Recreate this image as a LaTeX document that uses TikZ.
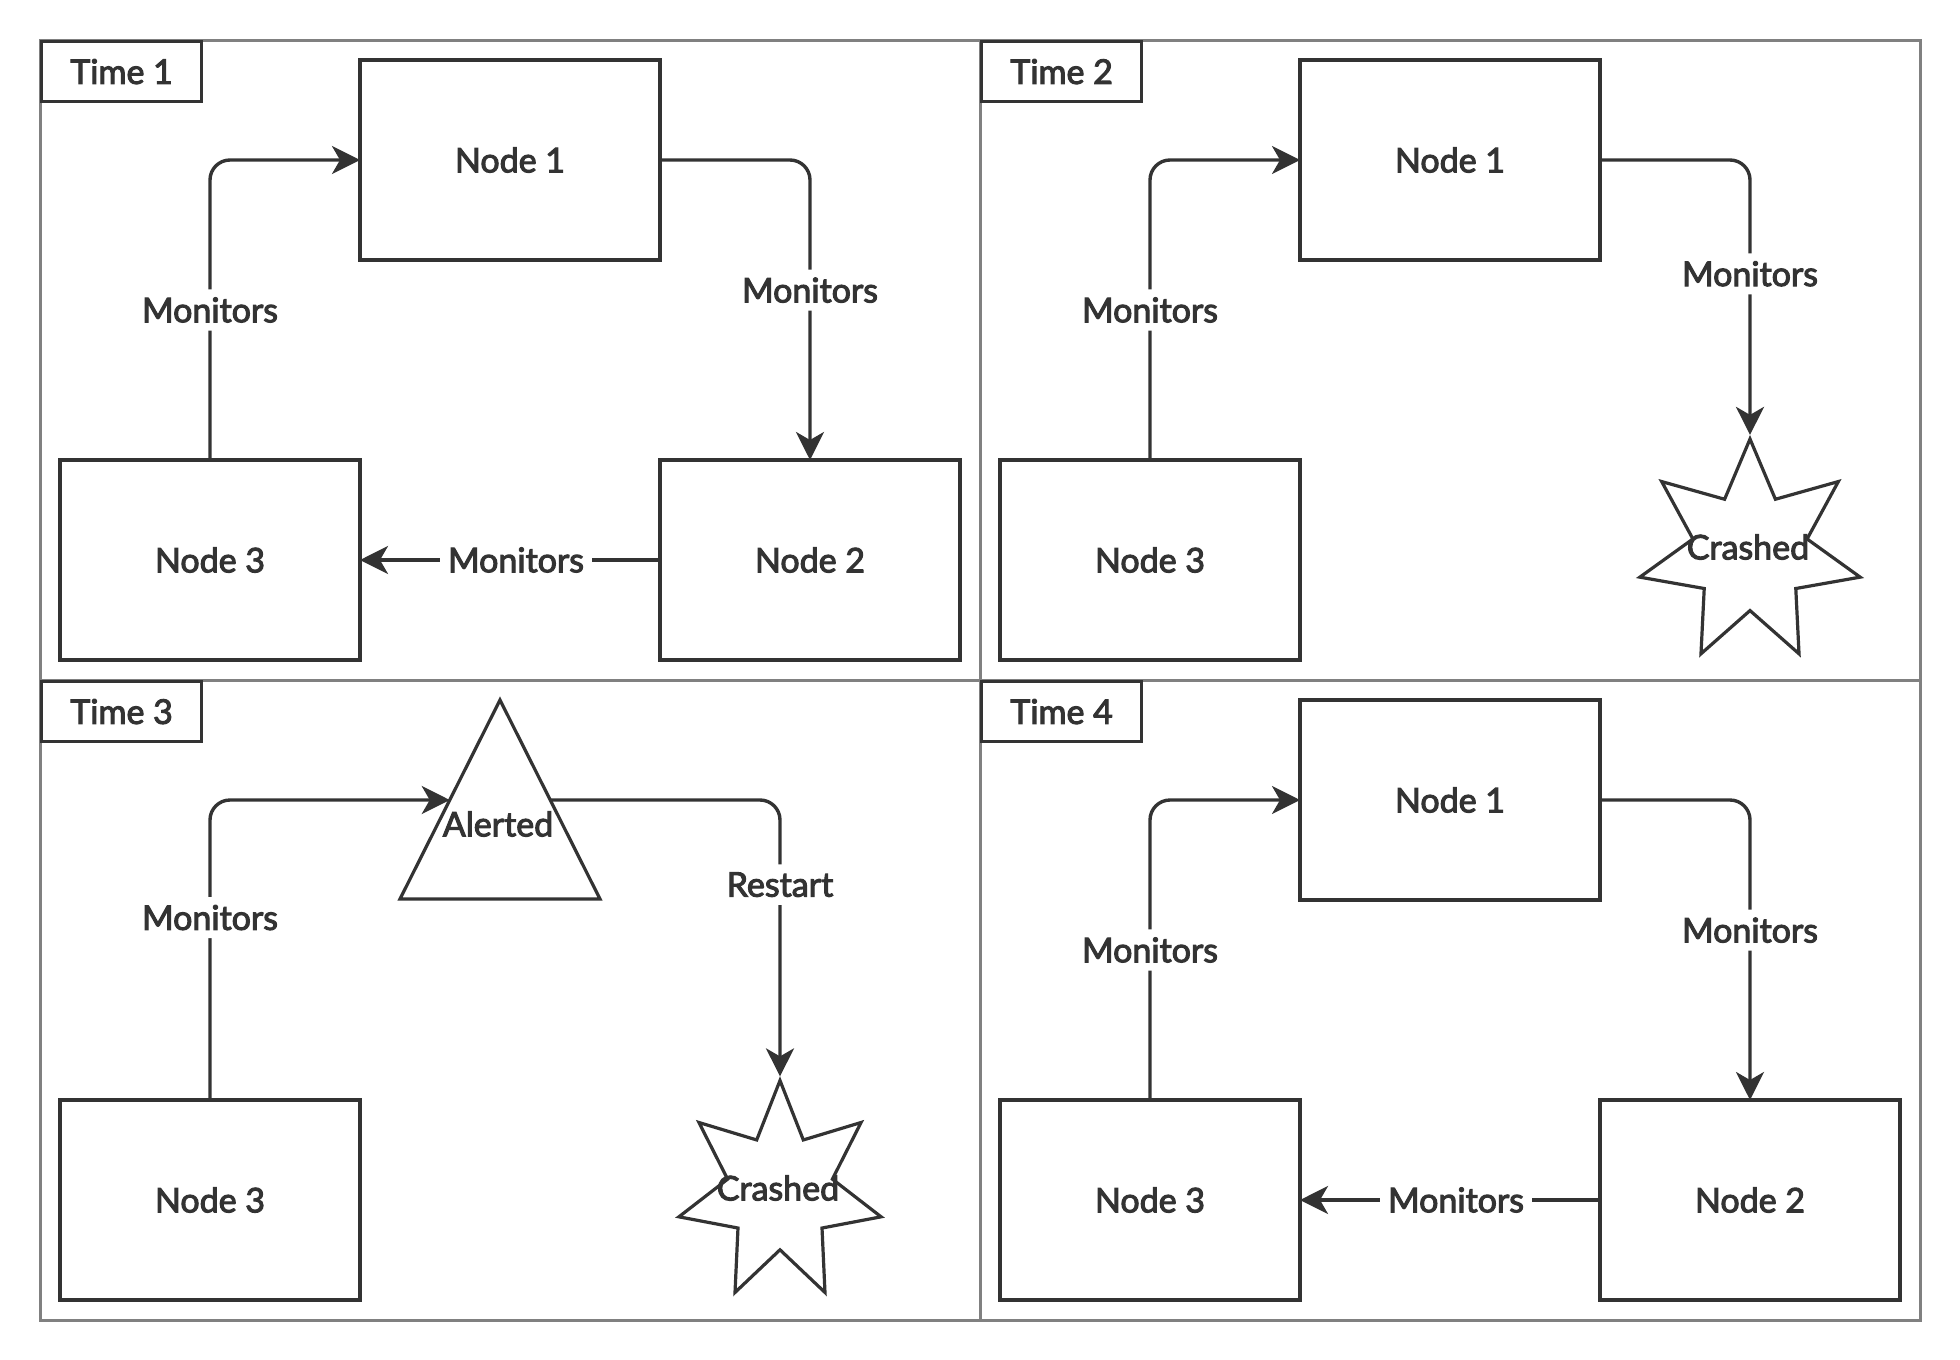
\documentclass[tikz,border=0pt]{standalone}
\usepackage{fontspec}
\setmainfont{Lato}[FakeBold=3]
\usetikzlibrary{arrows.meta,positioning,shapes.geometric,calc}

\definecolor{ink}{HTML}{333333}
\definecolor{framegray}{HTML}{808080}

\begin{document}
\begin{tikzpicture}[
    x=0.5pt, y=-0.5pt,
    font=\fontsize{17}{20}\selectfont, text=ink,
    panel/.style={draw=framegray, line width=1.5pt},
    timetag/.style={rectangle, draw=ink, line width=1.6pt, fill=white, minimum width=80pt, minimum height=30pt, anchor=north west, inner sep=0pt},
    box/.style={rectangle, draw=ink, line width=1.7pt, minimum width=150pt, minimum height=100pt, inner sep=0pt, outer sep=0pt},
    crash/.style={star, star points=7, star point ratio=1.93, draw=ink, line width=1.6pt, minimum size=113pt, inner sep=0pt},
    arrow/.style={-{Stealth[length=14pt, width=14pt, inset=4pt]}, draw=ink, line width=1.7pt, rounded corners=10pt},
    lbl/.style={fill=white, inner sep=4pt}
]
    \useasboundingbox (0,0) rectangle (1960,1360);

    % Panel frames
    \draw[panel] (40,40) rectangle (980,680);
    \draw[panel] (980,40) rectangle (1920,680);
    \draw[panel] (40,680) rectangle (980,1320);
    \draw[panel] (980,680) rectangle (1920,1320);

    % Time 1: all nodes up
    \node[timetag] (t1) at (40,40) {Time 1};
    \node[box] (n3a) at (210,560) {Node 3};
    \node[box, above right=100pt and 0pt of n3a] (n1a) {Node 1};
    \node[box, right=150pt of n3a] (n2a) {Node 2};
    \draw[arrow] (n3a.north) |- node[lbl, pos=0.25] (m1a) {Monitors} (n1a.west);
    \draw[arrow] (n1a.east) -| node[lbl, pos=0.717] (m2a) {Monitors} (n2a.north);
    \draw[arrow] (n2a.west) -- node[lbl, pos=0.48] (m3a) {Monitors} (n3a.east);

    % Time 2: node 2 crashed
    \node[timetag] (t2) at (980,40) {Time 2};
    \node[box] (n3b) at (1150,560) {Node 3};
    \node[box, above right=100pt and 0pt of n3b] (n1b) {Node 1};
    \node[crash] (c2) at (1750,552) {};
    \node (c2t) at (1748,547) {Crashed};
    \draw[arrow] (n3b.north) |- node[lbl, pos=0.25] (m1b) {Monitors} (n1b.west);
    \draw[arrow] (n1b.east) -| node[lbl, pos=0.707] (m2b) {Monitors} (c2.north);

    % Time 3: node 1 alerted
    \node[timetag] (t3) at (40,680) {Time 3};
    \node[box] (n3c) at (210,1200) {Node 3};
    \coordinate (tA) at (500,700);
    \coordinate (tB) at (600,899);
    \coordinate (tC) at (400,899);
    \draw[ink, line width=1.6pt] (tA) -- (tB) -- (tC) -- cycle;
    \node (al) at (498,824) {Alerted};
    \coordinate (tin) at ($(tA)!0.5025!(tC)$);
    \coordinate (tout) at ($(tA)!0.5025!(tB)$);
    \node[crash, minimum size=111.5pt, xscale=0.93, transform shape] (c3) at (780,1192) {};
    \node (c3t) at (778,1188) {Crashed};
    \draw[arrow] (n3c.north) |- node[lbl, pos=0.304] (m1c) {Monitors} (tin);
    \draw[arrow] (tout) -| node[lbl, pos=0.653] (rc) {Restart} (c3.north);

    % Time 4: back to normal
    \node[timetag] (t4) at (980,680) {Time 4};
    \node[box] (n3d) at (1150,1200) {Node 3};
    \node[box, above right=100pt and 0pt of n3d] (n1d) {Node 1};
    \node[box, right=150pt of n3d] (n2d) {Node 2};
    \draw[arrow] (n3d.north) |- node[lbl, pos=0.25] (m1d) {Monitors} (n1d.west);
    \draw[arrow] (n1d.east) -| node[lbl, pos=0.717] (m2d) {Monitors} (n2d.north);
    \draw[arrow] (n2d.west) -- node[lbl, pos=0.48] (m3d) {Monitors} (n3d.east);
\end{tikzpicture}
\end{document}
